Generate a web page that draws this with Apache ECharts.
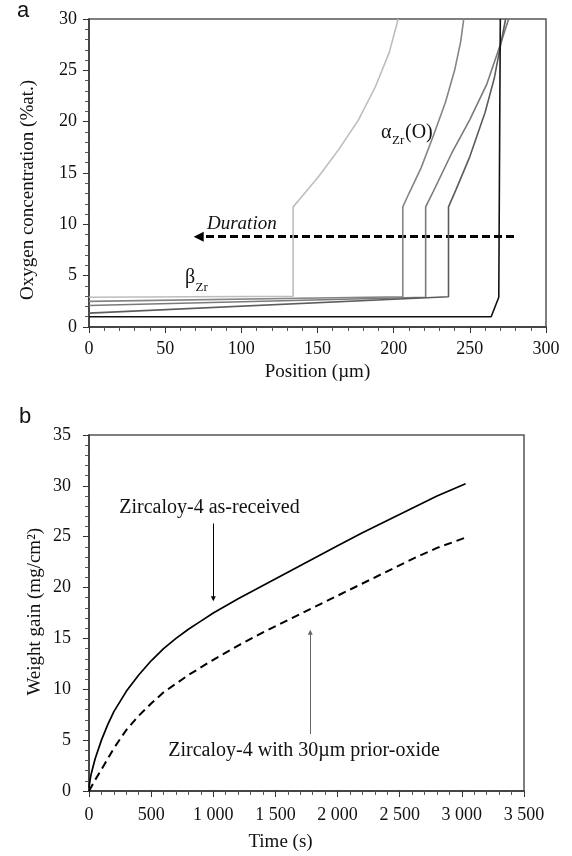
<!DOCTYPE html>
<html>
<head>
<meta charset="utf-8">
<script src="https://cdn.jsdelivr.net/npm/echarts@6/dist/echarts.min.js"></script>
<style>
html, body { margin: 0; padding: 0; background: #fff; }
#chart { width: 572px; height: 856px; }
</style>
</head>
<body>
<div id="chart"></div>
<script>
// panel a : oxygen profiles, position (um) vs concentration (%at.)
var profileLongest = [[0, 2.9], [134, 3.0], [134, 11.7], [138, 12.4], [151, 14.7], [164, 17.3], [177, 20.2], [188, 23.4], [197, 26.7], [203, 30]]
var profile206 = [[0, 2.5], [206, 2.95], [206, 11.7], [210, 13.0], [218, 15.5], [226, 18.6], [234, 21.9], [240, 25.0], [244, 27.8], [246, 30]]
var profile221 = [[0, 2.1], [221, 2.9], [221, 11.7], [226, 13.2], [238, 16.9], [250, 20.2], [261, 23.6], [270, 27.5], [275.5, 30]]
var profile236 = [[0, 1.35], [236, 2.95], [236, 11.7], [241, 13.4], [250, 16.6], [260, 20.9], [266, 24.2], [270, 27.3], [273.5, 30]]
var profileShortest = [[0, 1.0], [264, 1.0], [269, 2.9], [270, 30]]
var durationArrow = [[279, 8.8], [72, 8.8]]

// panel b : weight gain (mg/cm2) vs time (s)
var asReceived = [[0, 0.3], [10, 1.2], [20, 1.8], [50, 3.2], [100, 5.0], [150, 6.5], [200, 7.8], [300, 9.8], [400, 11.4], [500, 12.8], [600, 14.0], [700, 15.0], [800, 15.9], [900, 16.7], [1000, 17.5], [1200, 18.9], [1400, 20.2], [1600, 21.5], [1800, 22.8], [2000, 24.1], [2200, 25.4], [2400, 26.6], [2600, 27.8], [2800, 29.0], [3030, 30.2]]
var priorOxide = [[0, 0], [50, 1.1], [100, 2.1], [200, 4.2], [300, 6.0], [400, 7.4], [500, 8.6], [600, 9.7], [800, 11.4], [1000, 12.9], [1200, 14.3], [1400, 15.6], [1600, 16.8], [1800, 18.0], [2000, 19.2], [2200, 20.4], [2400, 21.6], [2600, 22.8], [2800, 23.9], [3050, 25.0]]
var asReceivedArrow = [[1000, 26.3], [1000, 18.9]]
var priorOxideArrow = [[1780, 5.6], [1780, 15.6]]

var serif = '"Liberation Serif", "Times New Roman", serif'
var axisColor = '#333'

function valueAxis (gridIndex, min, max, interval, margin, formatter) {
  return {
    type: 'value',
    gridIndex: gridIndex,
    min: min,
    max: max,
    interval: interval,
    axisLine: { show: true, onZero: false, lineStyle: { color: axisColor, width: 1.5 } },
    axisTick: { show: true, length: 6, lineStyle: { color: axisColor, width: 1 } },
    minorTick: { show: true, splitNumber: 5, length: 4, lineStyle: { color: '#555', width: 1 } },
    splitLine: { show: false },
    axisLabel: {
      margin: margin,
      fontFamily: serif,
      fontSize: 18,
      color: '#111',
      formatter: formatter
    }
  }
}

function thousands (v) {
  return String(v).replace(/(\d)(\d{3})$/, '$1 $2')
}

function profile (data, color) {
  return {
    type: 'line',
    xAxisIndex: 0,
    yAxisIndex: 0,
    data: data,
    symbol: 'none',
    lineStyle: { color: color, width: 1.6 },
    silent: true
  }
}

function arrow (xi, data, color, width, size, dash) {
  return {
    type: 'lines',
    coordinateSystem: 'cartesian2d',
    xAxisIndex: xi,
    yAxisIndex: xi,
    symbol: ['none', 'triangle'],
    symbolSize: size,
    lineStyle: { color: color, width: width, type: dash || 'solid', opacity: 1 },
    data: [{ coords: data }]
  }
}

function text (x, y, str, font, align, rotation) {
  return {
    type: 'text',
    x: x,
    y: y,
    rotation: rotation || 0,
    style: { text: str, font: font, fill: '#111', align: align || 'left', verticalAlign: 'middle' }
  }
}

var chart = echarts.init(document.getElementById('chart'))

var option = {
  animation: false,
  backgroundColor: '#fff',
  grid: [
    { left: 89, top: 19, width: 457, height: 308, show: true, borderColor: '#555', borderWidth: 1.5 },
    { left: 89, top: 435, width: 435, height: 356, show: true, borderColor: '#555', borderWidth: 1.5 }
  ],
  xAxis: [
    valueAxis(0, 0, 300, 50, 13),
    valueAxis(1, 0, 3500, 500, 15, thousands)
  ],
  yAxis: [
    valueAxis(0, 0, 30, 5, 12),
    valueAxis(1, 0, 35, 5, 18)
  ],
  series: [
    profile(profileLongest, '#bdbdbd'),
    profile(profile206, '#858585'),
    profile(profile221, '#7a7a7a'),
    profile(profile236, '#5c5c5c'),
    profile(profileShortest, '#111'),
    arrow(0, durationArrow, '#000', 3.2, 10, [8, 4]),
    {
      type: 'line',
      xAxisIndex: 1,
      yAxisIndex: 1,
      data: asReceived,
      symbol: 'none',
      lineStyle: { color: '#000', width: 1.7 }
    },
    {
      type: 'line',
      xAxisIndex: 1,
      yAxisIndex: 1,
      data: priorOxide,
      symbol: 'none',
      lineStyle: { color: '#000', width: 2, type: [8, 5] }
    },
    arrow(1, asReceivedArrow, '#000', 1, 5),
    arrow(1, priorOxideArrow, '#666', 1, 5)
  ],
  graphic: [
    text(17, 10.7, 'a', '22px "Liberation Sans", Arial, sans-serif'),
    text(19, 417, 'b', '22px "Liberation Sans", Arial, sans-serif'),
    // axis titles
    text(28.3, 190, 'Oxygen concentration (%at.)', '19px ' + serif, 'center', Math.PI / 2),
    text(317.5, 372, 'Position (\u00b5m)', '19px ' + serif, 'center'),
    text(35, 611.7, 'Weight gain (mg/cm\u00b2)', '19px ' + serif, 'center', Math.PI / 2),
    text(280.5, 842, 'Time (s)', '19px ' + serif, 'center'),
    // panel a annotations
    text(207, 223.5, 'Duration', 'italic 19px ' + serif),
    text(381, 132.7, '\u03b1', '20px ' + serif),
    text(392, 140.6, 'Zr', '13px ' + serif),
    text(405, 132.7, '(O)', '20px ' + serif),
    text(185, 278, '\u03b2', '20px ' + serif),
    text(195.5, 287.6, 'Zr', '13px ' + serif),
    // panel b annotations
    text(119.3, 508, 'Zircaloy-4 as-received', '20px ' + serif),
    text(168.3, 750.5, 'Zircaloy-4 with 30\u00b5m prior-oxide', '20px ' + serif)
  ]
}

chart.setOption(option)
</script>
</body>
</html>
